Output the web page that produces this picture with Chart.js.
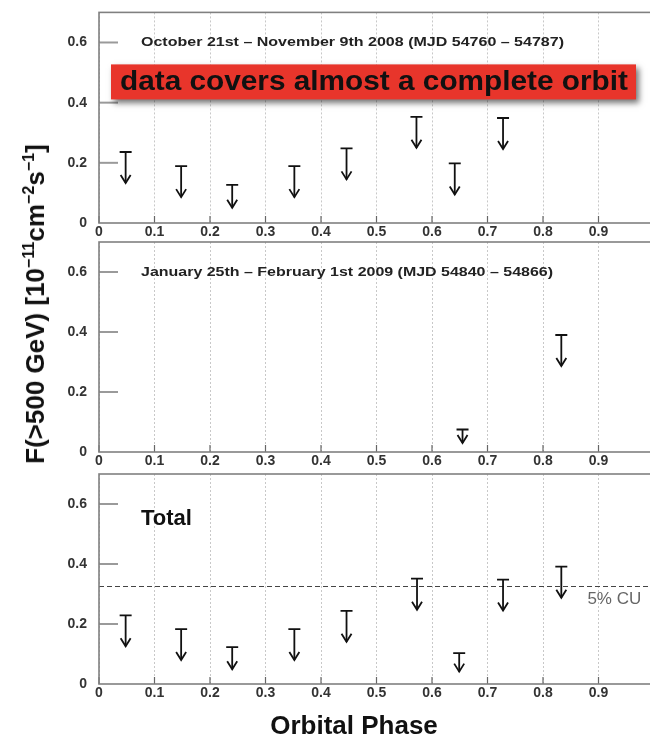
<!DOCTYPE html>
<html>
<head>
<meta charset="utf-8">
<script src="https://cdn.jsdelivr.net/npm/chart.js@4/dist/chart.umd.min.js"></script>
<style>
  html, body { margin: 0; padding: 0; background: #fff; overflow: hidden; width: 650px; height: 738px; }
  #wrap { position: relative; width: 650px; height: 738px; overflow: hidden; }
  #wrap canvas { position: absolute; left: 0; }
  #ytitle {
    position: absolute; left: 35px; top: 304px;
    font: bold 26px "Liberation Sans", Arial, sans-serif; color: #111;
    white-space: nowrap; line-height: 30px;
    transform: translate(-50%, -50%) rotate(-90deg);
  }
  #ytitle sup { font-size: 0.62em; line-height: 0; }
</style>
</head>
<body>
<div id="wrap">
  <canvas id="c1" width="660" height="240" style="top:0px"></canvas>
  <canvas id="c2" width="660" height="246" style="top:226px"></canvas>
  <canvas id="c3" width="660" height="278" style="top:460px"></canvas>
  <div id="ytitle">F(&gt;500 GeV) [10<sup>&minus;11</sup>cm<sup>&minus;2</sup>s<sup>&minus;1</sup>]</div>
</div>
<script>
// Axis ticks
const phaseTicks = [0, 0.1, 0.2, 0.3, 0.4, 0.5, 0.6, 0.7, 0.8, 0.9, 1.0];
const fluxTicks = [0, 0.2, 0.4, 0.6];

// Oct 21 - Nov 9 2008: orbital phase and flux upper limits
const phaseOct = [0.048, 0.148, 0.240, 0.352, 0.446, 0.572, 0.641, 0.728];
const ulOct    = [0.236, 0.189, 0.127, 0.189, 0.248, 0.353, 0.198, 0.349];

// Jan 25 - Feb 1 2009
const phaseJan = [0.655, 0.833];
const ulJan    = [0.075, 0.390];

// Combined data set
const phaseTot = [0.048, 0.148, 0.240, 0.352, 0.446, 0.573, 0.649, 0.728, 0.833];
const ulTot    = [0.229, 0.183, 0.123, 0.183, 0.244, 0.351, 0.103, 0.348, 0.391];

// 5% of the Crab flux above 500 GeV
const crabLevel = 0.325;

const FONT = '"Liberation Sans", Arial, sans-serif';

function toPoints(xs, ys) { return xs.map((x, i) => ({ x: x, y: ys[i] })); }

function fitText(ctx, text, x, y, width, font, color) {
  ctx.save();
  ctx.font = font;
  ctx.fillStyle = color;
  ctx.textBaseline = 'middle';
  ctx.textAlign = 'left';
  const w = ctx.measureText(text).width;
  ctx.translate(x, y);
  ctx.scale(width / w, 1);
  ctx.fillText(text, 0, 0);
  ctx.restore();
}

// Upper-limit markers: bar at the limit, shaft and open arrowhead below it
const upperLimitPlugin = {
  id: 'upperLimits',
  afterDatasetsDraw(chart) {
    const ctx = chart.ctx;
    const y0 = chart.scales.y.getPixelForValue(0);
    chart.data.datasets.forEach((ds, di) => {
      if (!ds.upperLimit) return;
      const meta = chart.getDatasetMeta(di);
      meta.data.forEach(pt => {
        const x = pt.x, y = pt.y;
        const len = Math.min(31, (y0 - y) * 0.6);
        const tip = y + len;
        ctx.save();
        ctx.strokeStyle = '#111';
        ctx.lineWidth = 1.8;
        ctx.lineCap = 'butt';
        ctx.beginPath();
        ctx.moveTo(x - 6, y); ctx.lineTo(x + 6, y);
        ctx.moveTo(x, y); ctx.lineTo(x, tip);
        ctx.stroke();
        ctx.beginPath();
        ctx.moveTo(x - 5, tip - 8); ctx.lineTo(x, tip); ctx.lineTo(x + 5, tip - 8);
        ctx.stroke();
        ctx.restore();
      });
    });
  }
};

// Frame, inner tick marks and panel annotations
const framePlugin = {
  id: 'frame',
  afterDraw(chart, args, opts) {
    const ctx = chart.ctx;
    const a = chart.chartArea;
    const xs = chart.scales.x, ys = chart.scales.y;
    ctx.save();
    // inner y ticks
    ctx.strokeStyle = '#9a9a9a';
    ctx.lineWidth = 2;
    fluxTicks.forEach(v => {
      if (v === 0) return;
      const py = ys.getPixelForValue(v);
      ctx.beginPath(); ctx.moveTo(a.left, py); ctx.lineTo(a.left + 19, py); ctx.stroke();
    });
    // inner x ticks
    ctx.strokeStyle = '#666';
    ctx.lineWidth = 1.2;
    phaseTicks.forEach(v => {
      const px = xs.getPixelForValue(v);
      ctx.beginPath(); ctx.moveTo(px, a.bottom); ctx.lineTo(px, a.bottom - 7); ctx.stroke();
    });
    // frame
    ctx.strokeStyle = '#808080';
    ctx.lineWidth = 1.6;
    ctx.strokeRect(a.left, a.top, a.right - a.left, a.bottom - a.top);
    ctx.restore();

    if (opts.caption) {
      fitText(ctx, opts.caption, a.left + 42, a.top + 30, opts.captionWidth,
              'bold 13px ' + FONT, '#222');
    }
    if (opts.banner) {
      ctx.save();
      ctx.shadowColor = 'rgba(0,0,0,0.55)';
      ctx.shadowBlur = 6;
      ctx.shadowOffsetX = 3;
      ctx.shadowOffsetY = 4;
      ctx.fillStyle = '#e8352b';
      ctx.fillRect(a.left + 12, a.top + 52, 525, 35);
      ctx.restore();
      fitText(ctx, opts.banner, a.left + 21, a.top + 70, 508, 'bold 28px ' + FONT, '#111');
    }
    if (opts.label) {
      ctx.save();
      ctx.font = 'bold 22px ' + FONT;
      ctx.fillStyle = '#111';
      ctx.textBaseline = 'middle';
      ctx.fillText(opts.label, a.left + 42, a.top + 45);
      ctx.restore();
    }
    if (opts.refLabel) {
      ctx.save();
      ctx.font = '17px ' + FONT;
      ctx.fillStyle = '#666';
      ctx.textBaseline = 'middle';
      ctx.fillText(opts.refLabel, xs.getPixelForValue(0.88), ys.getPixelForValue(crabLevel) + 13);
      ctx.restore();
    }
    if (opts.xTitle) {
      ctx.save();
      ctx.font = 'bold 26px ' + FONT;
      ctx.fillStyle = '#111';
      ctx.textBaseline = 'middle';
      ctx.textAlign = 'center';
      ctx.fillText(opts.xTitle, 354, a.bottom + 43);
      ctx.restore();
    }
  }
};

function fmtTick(v) {
  if (Math.abs(v) < 1e-9) return '0';
  if (Math.abs(v - 1) < 1e-9) return '1';
  return v.toFixed(1);
}

function makePanel(id, datasets, padTop, xHeight, deco) {
  return new Chart(document.getElementById(id), {
    type: 'scatter',
    data: { datasets: datasets },
    options: {
      responsive: false,
      animation: false,
      events: [],
      layout: { padding: { top: padTop, right: 6, bottom: 0, left: 0 } },
      plugins: { legend: { display: false }, tooltip: { enabled: false }, frame: deco },
      scales: {
        x: {
          type: 'linear', min: 0, max: 1,
          afterBuildTicks: s => { s.ticks = phaseTicks.map(v => ({ value: v })); },
          afterFit: s => { s.height = xHeight; },
          grid: { color: '#c8c8c8', lineWidth: 1, drawTicks: false },
          border: { display: false, dash: [2, 2] },
          ticks: { padding: 1, color: '#333', font: { family: FONT, size: 14, weight: 'bold' },
                   maxRotation: 0, autoSkip: false, callback: fmtTick }
        },
        y: {
          type: 'linear', min: 0, max: 0.7,
          afterBuildTicks: s => { s.ticks = fluxTicks.map(v => ({ value: v })); },
          afterFit: s => { s.width = 99; },
          grid: { display: false },
          border: { display: false },
          ticks: { padding: 4, color: '#333', font: { family: FONT, size: 14, weight: 'bold' },
                   callback: fmtTick }
        }
      }
    },
    plugins: [upperLimitPlugin, framePlugin]
  });
}

function ulSet(xs, ys) {
  return { label: 'upper limits', upperLimit: true, data: toPoints(xs, ys), pointRadius: 0, showLine: false };
}

makePanel('c1', [ulSet(phaseOct, ulOct)], 9, 17, {
  caption: 'October 21st \u2013 November 9th 2008 (MJD 54760 \u2013 54787)',
  captionWidth: 423,
  banner: 'data covers almost a complete orbit'
});

makePanel('c2', [ulSet(phaseJan, ulJan)], 16, 20, {
  caption: 'January 25th \u2013 February 1st 2009 (MJD 54840 \u2013 54866)',
  captionWidth: 412
});

makePanel('c3', [
  ulSet(phaseTot, ulTot),
  { label: '5% CU', data: [{ x: 0, y: crabLevel }, { x: 1, y: crabLevel }], showLine: true,
    borderColor: '#444', borderWidth: 1, borderDash: [5, 3], pointRadius: 0 }
], 14, 54, {
  label: 'Total',
  refLabel: '5% CU',
  xTitle: 'Orbital Phase'
});
</script>
</body>
</html>
